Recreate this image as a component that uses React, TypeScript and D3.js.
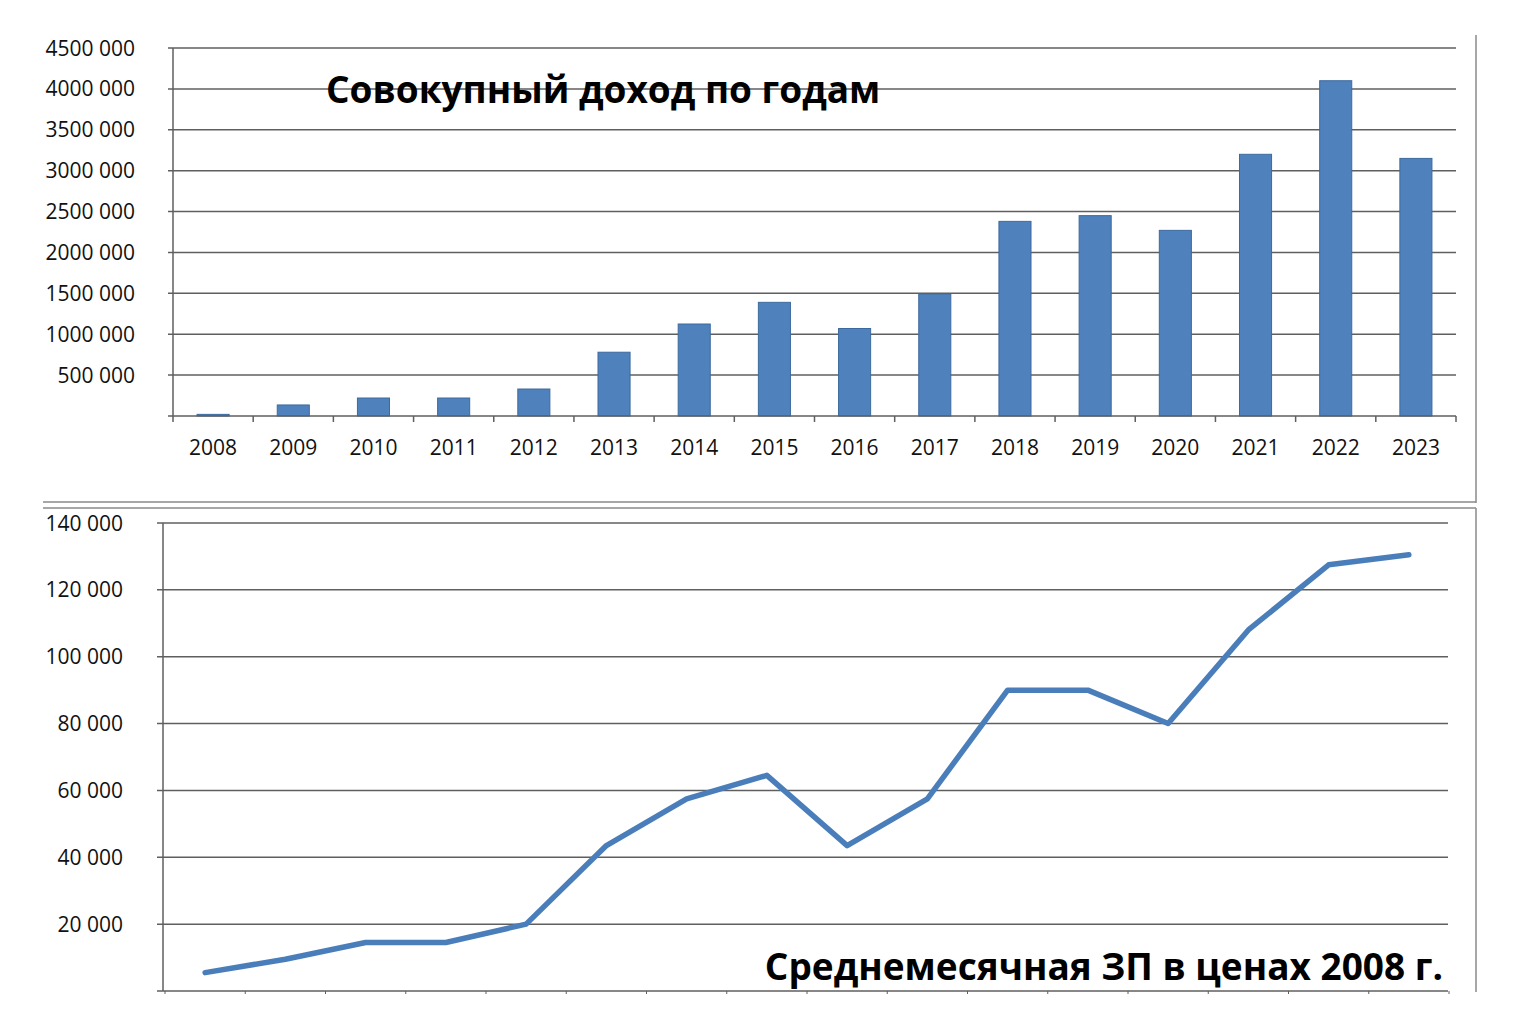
import React from 'react'
import * as d3 from 'd3'

// Совокупный доход по годам
const years = ['2008', '2009', '2010', '2011', '2012', '2013', '2014', '2015', '2016', '2017', '2018', '2019', '2020', '2021', '2022', '2023']
const incomeValues = [20000, 135000, 220000, 220000, 330000, 780000, 1125000, 1390000, 1070000, 1490000, 2380000, 2450000, 2270000, 3200000, 4100000, 3150000]
const incomeTicks = [500000, 1000000, 1500000, 2000000, 2500000, 3000000, 3500000, 4000000, 4500000]

// Среднемесячная ЗП в ценах 2008 г.
const salaryValues = [5500, 9500, 14500, 14500, 20000, 43500, 57500, 64500, 43500, 57500, 90000, 90000, 80000, 108000, 127500, 130500]
const salaryTicks = [20000, 40000, 60000, 80000, 100000, 120000, 140000]

const topTitle = 'Совокупный доход по годам'
const bottomTitle = 'Среднемесячная ЗП в ценах 2008 г.'

const W = 1520
const H = 1031
const FONT = '"Open Sans", "Noto Sans", sans-serif'
const C = {
  grid: '#5f5f5f',
  frame: '#8a8a8a',
  bar: '#4f81bd',
  barStroke: '#3d6a9e',
  line: '#4a7ebb',
  text: '#111',
}

const fmt = (v: number) => {
  const s = String(v)
  if (s.length <= 3) return s
  return s.slice(0, s.length - 3) + ' ' + s.slice(-3)
}

export default function App() {
  // top chart scales
  const tx = d3.scaleBand().domain(years).range([173, 1456]).paddingInner(0.6).paddingOuter(0.3)
  const ty = d3.scaleLinear().domain([0, 4500000]).range([416, 48])
  const step = (1456 - 173) / years.length

  // bottom chart scales
  const bx = d3.scalePoint().domain(years).range([165, 1449]).padding(0.5)
  const by = d3.scaleLinear().domain([0, 140000]).range([991, 523])
  const bStep = (1449 - 165) / years.length
  const line = d3.line<number>().x((_, i) => bx(years[i]) as number).y(d => by(d))

  return (
    <div style={{ position: 'fixed', left: 0, top: 0 }}>
      <svg width={W} height={H} style={{ display: 'block', background: '#fff', fontFamily: FONT }}>
        {/* panel frames */}
        <line x1={1476} y1={35} x2={1476} y2={503} stroke={C.frame} strokeWidth={1.5} />
        <line x1={43} y1={502} x2={1476} y2={502} stroke={C.frame} strokeWidth={1.5} />
        <line x1={43} y1={508} x2={1476} y2={508} stroke={C.frame} strokeWidth={1.5} />
        <line x1={1476} y1={508} x2={1476} y2={992} stroke={C.frame} strokeWidth={1.5} />

        {/* ── top chart ── */}
        {incomeTicks.map(v => (
          <g key={'tg' + v}>
            <line x1={168} x2={1456} y1={ty(v)} y2={ty(v)} stroke={C.grid} strokeWidth={1.5} />
            <text x={135} y={ty(v)} dy="0.36em" textAnchor="end" fontSize={21} fill={C.text}>{fmt(v)}</text>
          </g>
        ))}
        {incomeValues.map((v, i) => (
          <rect key={'b' + i} x={tx(years[i])} y={ty(v)} width={tx.bandwidth()} height={ty(0) - ty(v)}
            fill={C.bar} stroke={C.barStroke} strokeWidth={1} />
        ))}
        <line x1={173} x2={173} y1={48} y2={416} stroke={C.grid} strokeWidth={1.5} />
        <line x1={168} x2={1456} y1={416} y2={416} stroke={C.grid} strokeWidth={1.5} />
        {d3.range(years.length + 1).map(i => (
          <line key={'tt' + i} x1={173 + i * step} x2={173 + i * step} y1={416} y2={422} stroke={C.grid} strokeWidth={1.5} />
        ))}
        {years.map(yr => (
          <text key={'tl' + yr} x={(tx(yr) as number) + tx.bandwidth() / 2} y={447} dy="0.36em" textAnchor="middle" fontSize={21} fill={C.text}>{yr}</text>
        ))}
        <text x={326} y={103} fontSize={37} fontWeight={700} fill="#000">{topTitle}</text>

        {/* ── bottom chart ── */}
        {salaryTicks.map(v => (
          <g key={'bg' + v}>
            <line x1={157} x2={1448} y1={by(v)} y2={by(v)} stroke={C.grid} strokeWidth={1.5} />
            <text x={123} y={by(v)} dy="0.36em" textAnchor="end" fontSize={21} fill={C.text}>{fmt(v)}</text>
          </g>
        ))}
        <line x1={163} x2={163} y1={523} y2={991} stroke={C.grid} strokeWidth={1.5} />
        <line x1={157} x2={1448} y1={991} y2={991} stroke={C.grid} strokeWidth={1.5} />
        {d3.range(years.length + 1).map(i => (
          <line key={'bt' + i} x1={165 + i * bStep} x2={165 + i * bStep} y1={991} y2={994} stroke={C.grid} strokeWidth={1} />
        ))}
        <path d={line(salaryValues) || ''} fill="none" stroke={C.line} strokeWidth={5.5} strokeLinejoin="round" strokeLinecap="round" />
        <text x={1443} y={980} textAnchor="end" fontSize={37} fontWeight={700} fill="#000">{bottomTitle}</text>
      </svg>
    </div>
  )
}
